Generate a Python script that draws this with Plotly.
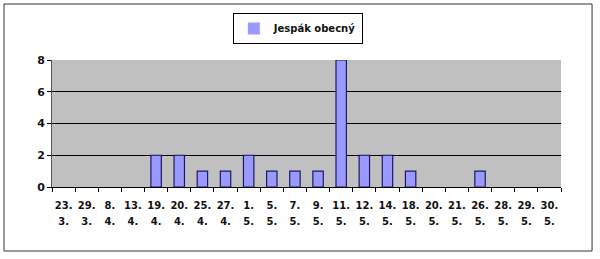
import plotly.graph_objects as go

dates_day = ["23.", "29.", "8.", "13.", "19.", "20.", "25.", "27.", "1.", "5.", "7.",
             "9.", "11.", "12.", "14.", "18.", "20.", "21.", "26.", "28.", "29.", "30."]
dates_month = ["3.", "3.", "4.", "4.", "4.", "4.", "4.", "4.", "5.", "5.", "5.",
               "5.", "5.", "5.", "5.", "5.", "5.", "5.", "5.", "5.", "5.", "5."]
counts = [0, 0, 0, 0, 2, 2, 1, 1, 2, 1, 1, 1, 8, 2, 2, 1, 0, 0, 1, 0, 0, 0]
series_name = "Jespák obecný"

idx = list(range(len(counts)))
n = len(idx)
font_main = dict(family="DejaVu Sans", size=10, color="#111111")

fig = go.Figure()
fig.add_trace(go.Bar(
    x=idx, y=counts, name="<b>%s</b>" % series_name, width=0.45,
    marker=dict(color="#9999FF",
                line=dict(color="#1a1a66", width=[1.2 if c > 0 else 0 for c in counts])),
))
fig.add_trace(go.Scatter(
    x=idx, y=[0] * n, xaxis="x2", mode="markers",
    marker=dict(opacity=0), showlegend=False, hoverinfo="skip",
))
fig.add_trace(go.Scatter(
    x=idx, y=[0] * n, xaxis="x3", mode="markers",
    marker=dict(opacity=0), showlegend=False, hoverinfo="skip",
))

boundaries = [i - 0.5 for i in range(n + 1)]

fig.update_layout(
    width=600, height=259,
    margin=dict(l=52, r=39, t=60, b=72),
    paper_bgcolor="white", plot_bgcolor="#C0C0C0",
    showlegend=True,
    legend=dict(
        x=0.483, y=1.37, xanchor="center", yanchor="top",
        bordercolor="black", borderwidth=1, bgcolor="white",
        font=dict(family="DejaVu Sans", size=10, color="#111111"),
        itemwidth=30, tracegroupgap=0,
    ),
    xaxis=dict(
        range=[-0.5, n - 0.5], tickvals=idx,
        ticktext=["<b>%s</b>" % d for d in dates_day],
        ticks="", showgrid=False, zeroline=False,
        showline=True, linecolor="black", linewidth=1,
        tickfont=font_main, ticklabelstandoff=9,
    ),
    xaxis2=dict(
        overlaying="x", matches="x", side="bottom", anchor="y",
        range=[-0.5, n - 0.5], tickvals=idx,
        ticktext=["<b>%s</b>" % m for m in dates_month],
        ticks="", showgrid=False, zeroline=False, showline=False,
        tickfont=font_main, ticklabelstandoff=27,
    ),
    xaxis3=dict(
        overlaying="x", matches="x", side="bottom", anchor="y",
        range=[-0.5, n - 0.5], tickvals=boundaries,
        showticklabels=False, ticks="outside", ticklen=4, tickcolor="black",
        showgrid=False, zeroline=False, showline=False,
    ),
    yaxis=dict(
        range=[0, 8], tickvals=[0, 2, 4, 6, 8],
        ticktext=["<b>%d</b>" % v for v in [0, 2, 4, 6, 8]],
        showgrid=True, gridcolor="black", gridwidth=1,
        zeroline=False, showline=True, linecolor="#555555", linewidth=1,
        ticks="outside", ticklen=4, tickcolor="black",
        tickfont=dict(family="DejaVu Sans", size=11, color="#111111"),
    ),
    shapes=[
        dict(type="rect", xref="paper", yref="paper",
             x0=-0.0943, x1=1.061, y0=-0.504, y1=1.441,
             line=dict(color="#333333", width=1), fillcolor="rgba(0,0,0,0)"),
    ],
)

fig.write_html("out.html")
